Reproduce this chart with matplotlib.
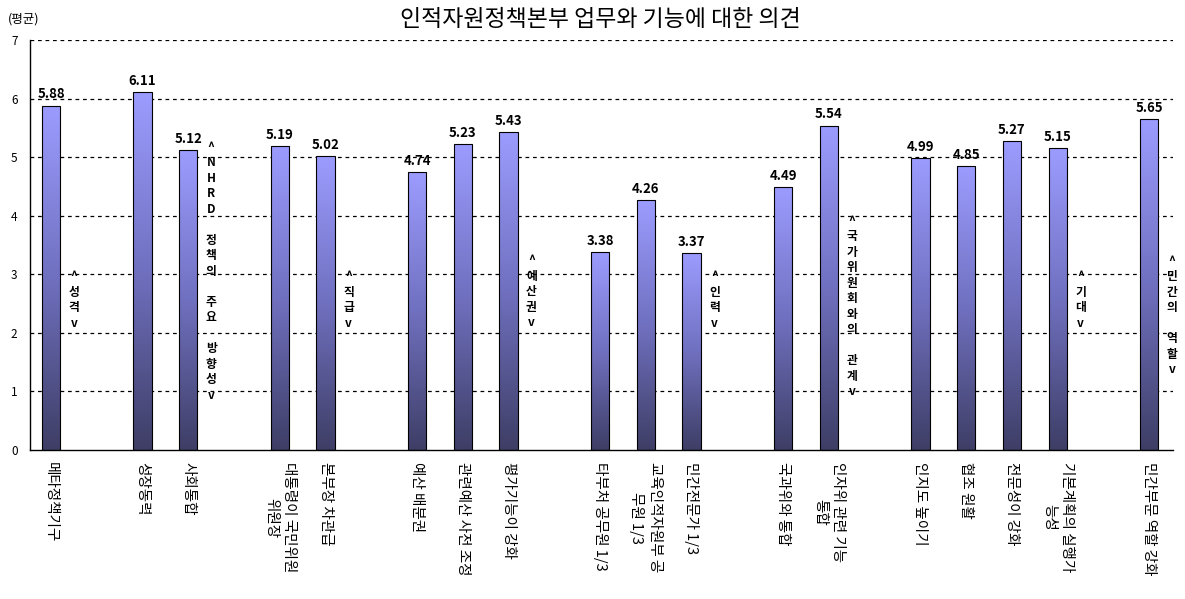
import matplotlib.pyplot as plt
import numpy as np
from matplotlib.colors import LinearSegmentedColormap

plt.rcParams['font.family'] = ['Noto Sans CJK KR', 'DejaVu Sans']

TITLE = "인적자원정책본부 업무와 기능에 대한 의견"
UNIT = "(평균)"

# one entry per group: heading, bar labels, values
group_names = ["성격", "NHRD 정책의 주요 방향성", "직급", "예산권", "인력",
               "국가위원회와의 관계", "기대", "민간의 역할"]
group_labels = [
    ["메타정책기구"],
    ["성장동력", "사회통합"],
    ["대통령이 국민위원\n위원장", "본부장 차관급"],
    ["예산 배분권", "관련예산 사전 조정", "평가기능이 강화"],
    ["타부처 공무원 1/3", "교육인적자원부 공\n무원 1/3", "민간전문가 1/3"],
    ["국과위와 통합", "인자위 관련 기능\n통합"],
    ["인지도 높이기", "협조 원활", "전문성이 강화", "기본계획의 실행가\n능성"],
    ["민간부문 역할 강화"],
]
group_values = [
    [5.88],
    [6.11, 5.12],
    [5.19, 5.02],
    [4.74, 5.23, 5.43],
    [3.38, 4.26, 3.37],
    [4.49, 5.54],
    [4.99, 4.85, 5.27, 5.15],
    [5.65],
]
# vertical heading centre (y) per group
heading_y = [2.56, 3.05, 2.56, 2.7, 2.56, 2.45, 2.56, 2.3]

cmap = LinearSegmentedColormap.from_list("bar", ["#3e3e66", "#7070c0", "#9c9cff"])
grad = np.linspace(0, 1, 256).reshape(-1, 1)

fig = plt.figure(figsize=(11.85, 5.99), dpi=100)
ax = fig.add_axes([30 / 1185, 149 / 599, 1143 / 1185, 410 / 599])

positions, labels, values = [], [], []
pos = 0
for gi, (names, vals) in enumerate(zip(group_labels, group_values)):
    for name, v in zip(names, vals):
        positions.append(pos)
        labels.append(name)
        values.append(v)
        pos += 1
    # heading stacked vertically to the right of the group
    stacked = "\n".join(["^"] + [c for c in group_names[gi]] + ["v"])
    ax.text(pos - 0.5, heading_y[gi], stacked, ha="center", va="center",
            fontsize=8.5, fontweight="bold", linespacing=1.25, clip_on=False)
    pos += 1

width = 0.4
bars = ax.bar(positions, values, width=width, facecolor="none",
              edgecolor="black", linewidth=0.8, zorder=3)
for b, v in zip(bars, values):
    x0 = b.get_x()
    im = ax.imshow(grad, cmap=cmap, aspect="auto", origin="lower",
                   extent=(x0, x0 + width, 0, v), zorder=2)
    im.set_clip_path(b)
    ax.text(b.get_x() + width / 2, v + 0.07, f"{v:.2f}", ha="center",
            va="bottom", fontsize=9.5, fontweight="bold", zorder=4)

ax.set_xlim(-0.46, 24.52)
ax.set_ylim(0, 7)
ax.set_xticks(positions)
ax.set_xticklabels(labels, rotation=-90, ha="center", va="top",
                   multialignment="center", fontsize=10.5, linespacing=1.35)
ax.set_yticks(range(8))
ax.tick_params(axis="both", length=0)
ax.tick_params(axis="x", pad=9)
ax.tick_params(axis="y", pad=9, labelsize=8.5)

for y in range(1, 8):
    ax.axhline(y, color="black", linestyle=(0, (3, 3)), linewidth=0.9, zorder=1)

for side in ["top", "right"]:
    ax.spines[side].set_visible(False)
ax.spines["left"].set_linewidth(1.0)
ax.spines["bottom"].set_linewidth(1.0)

fig.text(600 / 1185, 1 - 20 / 599, TITLE, ha="center", va="center", fontsize=16.5)
fig.text(8 / 1185, 1 - 19 / 599, UNIT, ha="left", va="center", fontsize=9)

fig.savefig("out.png", dpi=100)
